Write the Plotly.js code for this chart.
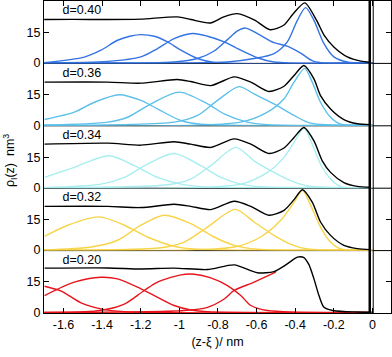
<!DOCTYPE html>
<html>
<head>
<meta charset="utf-8">
<script src="https://cdn.plot.ly/plotly-3.0.1.min.js"></script>
<style>
  body { margin: 0; background: white; }
  #chart { width: 392px; height: 357px; }
</style>
</head>
<body>
<div id="chart"></div>
<script>
// panel labels, top to bottom
const panelLabels = ['d=0.40', 'd=0.36', 'd=0.34', 'd=0.32', 'd=0.20'];
const panelColors = ['#3473e3', '#5cc0ea', '#a8eef0', '#f7d448', '#e8141c'];

const xTickVals = [-1.6, -1.4, -1.2, -1.0, -0.8, -0.6, -0.4, -0.2, 0];
const xTickText = ['-1.6', '-1.4', '-1.2', '-1', '-0.8', '-0.6', '-0.4', '-0.2', '0'];
const yTickVals = [0, 15];
const yTickText = ['0', '15'];

// d=0.40
const black1X = [-1.70, -1.55, -1.37, -1.20, -1.01, -0.94, -0.84, -0.77, -0.70, -0.61, -0.53, -0.46, -0.41, -0.35, -0.29, -0.25, -0.20, -0.13, -0.06, -0.01];
const black1Y = [21.3, 21.4, 21.3, 21.5, 22.6, 21.3, 19.6, 22.6, 24.2, 21.0, 16.3, 18.5, 24.2, 29.5, 21.0, 13.5, 7.8, 2.9, 0.8, 0.2];
const c1aX = [-1.492, -1.406, -1.320, -1.251, -1.199, -1.130, -1.061, -0.992, -0.906, -0.820];
const c1aY = [2.8, 6.2, 11.1, 13.2, 13.9, 13.1, 10.3, 6.2, 2.1, 0.2];
const c1bX = [-1.371, -1.199, -1.113, -1.027, -0.932, -0.854, -0.768, -0.682, -0.596, -0.510];
const c1bY = [0.7, 2.9, 7.0, 11.9, 14.4, 13.1, 10.3, 6.2, 2.5, 0.4];
const c1cX = [-1.027, -0.906, -0.820, -0.751, -0.699, -0.657, -0.596, -0.510, -0.441, -0.372, -0.303];
const c1cY = [0.4, 2.1, 5.8, 11.4, 15.7, 17.1, 14.4, 9.9, 8.2, 4.8, 0.7];
const c1dX = [-0.751, -0.613, -0.510, -0.441, -0.389, -0.346, -0.303, -0.251, -0.200, -0.131];
const c1dY = [0.4, 2.1, 4.5, 10.3, 20.9, 27.2, 20.9, 9.4, 2.9, 0.4];

// d=0.36
const black2X = [-1.698, -1.371, -1.199, -1.010, -0.941, -0.837, -0.716, -0.630, -0.536, -0.458, -0.406, -0.355, -0.303, -0.269, -0.217, -0.148, -0.079, -0.010];
const black2Y = [21.2, 21.2, 20.7, 22.5, 21.5, 19.5, 23.8, 21.2, 16.6, 19.2, 24.5, 29.4, 22.8, 14.6, 8.0, 2.8, 0.7, 0.2];
const c2aX = [-1.698, -1.544, -1.440, -1.311, -1.199, -1.113, -0.992, -0.889];
const c2aY = [2.8, 6.4, 11.3, 15.0, 12.2, 8.0, 2.3, 0.5];
const c2bX = [-1.371, -1.268, -1.147, -1.001, -0.854, -0.768, -0.648, -0.544];
const c2bY = [1.5, 3.9, 10.5, 16.3, 10.5, 5.6, 1.5, 0.3];
const c2cX = [-1.027, -0.906, -0.803, -0.691, -0.613, -0.510, -0.406, -0.320];
const c2cY = [1.5, 4.8, 12.2, 19.0, 15.4, 10.5, 4.8, 1.0];
const c2dX = [-0.682, -0.544, -0.458, -0.406, -0.351, -0.312, -0.269, -0.217, -0.165];
const c2dY = [1.5, 6.4, 13.0, 21.2, 28.0, 21.2, 11.3, 3.9, 0.5];

// d=0.34
const black3X = [-1.698, -1.371, -1.199, -1.027, -0.941, -0.837, -0.716, -0.630, -0.536, -0.458, -0.406, -0.355, -0.303, -0.260, -0.217, -0.148, -0.079, -0.010];
const black3Y = [21.4, 21.9, 20.9, 22.6, 21.4, 19.8, 24.0, 21.4, 16.8, 19.5, 24.7, 29.6, 23.0, 13.2, 7.5, 2.5, 0.6, 0.2];
const c3aX = [-1.698, -1.544, -1.363, -1.233, -1.113, -0.992, -0.889];
const c3aY = [5.0, 10.0, 15.7, 10.8, 5.0, 1.7, 0.5];
const c3bX = [-1.406, -1.285, -1.165, -1.027, -0.889, -0.785, -0.682, -0.579];
const c3bY = [1.7, 5.0, 11.6, 16.8, 10.8, 5.0, 1.7, 0.4];
const c3cX = [-1.061, -0.941, -0.837, -0.708, -0.613, -0.510, -0.423, -0.337];
const c3cY = [1.4, 4.2, 10.8, 19.8, 13.2, 7.5, 3.4, 0.8];
const c3dX = [-0.682, -0.544, -0.458, -0.406, -0.355, -0.312, -0.269, -0.217, -0.165];
const c3dY = [1.7, 7.5, 14.9, 22.3, 29.3, 21.4, 11.6, 4.2, 0.5];

// d=0.32
const black4X = [-1.698, -1.371, -1.199, -1.027, -0.941, -0.837, -0.716, -0.630, -0.536, -0.458, -0.406, -0.363, -0.312, -0.269, -0.217, -0.148, -0.079, -0.010];
const black4Y = [21.5, 21.5, 20.9, 22.5, 21.5, 19.9, 24.0, 21.5, 17.1, 19.5, 24.8, 29.7, 23.6, 13.8, 7.2, 2.3, 0.7, 0.2];
const c4aX = [-1.698, -1.578, -1.415, -1.285, -1.165, -1.027, -0.906];
const c4aY = [6.7, 12.2, 16.3, 12.2, 6.4, 1.8, 0.4];
const c4bX = [-1.457, -1.320, -1.199, -1.079, -0.941, -0.820, -0.716, -0.596];
const c4bY = [1.5, 4.8, 12.2, 17.1, 13.0, 6.4, 2.3, 0.4];
const c4cX = [-1.096, -0.975, -0.854, -0.711, -0.613, -0.510, -0.423, -0.337];
const c4cY = [1.1, 3.9, 11.3, 20.0, 13.8, 7.2, 2.8, 0.5];
const c4dX = [-0.716, -0.579, -0.475, -0.406, -0.363, -0.320, -0.269, -0.217, -0.165];
const c4dY = [1.5, 6.4, 14.6, 23.6, 29.4, 22.0, 11.3, 3.9, 0.5];

// d=0.20
const black5X = [-1.698, -1.371, -1.199, -1.027, -0.854, -0.716, -0.596, -0.510, -0.441, -0.389, -0.355, -0.329, -0.303, -0.277, -0.251, -0.200, -0.079, -0.010];
const black5Y = [21.8, 21.9, 21.4, 21.8, 21.1, 23.4, 19.5, 20.1, 23.9, 27.2, 27.0, 23.5, 16.5, 8.3, 2.5, 0.8, 0.2, 0.1];
const c5aX = [-1.698, -1.612, -1.509, -1.406, -1.285];
const c5aY = [12.9, 10.5, 4.7, 1.7, 0.3];
const c5bX = [-1.698, -1.544, -1.406, -1.320, -1.199, -1.130, -1.027, -0.941, -0.854];
const c5bY = [8.3, 14.9, 17.3, 16.5, 11.6, 8.3, 3.4, 1.2, 0.3];
const c5cX = [-1.423, -1.285, -1.182, -1.113, -0.992, -0.923, -0.837, -0.751, -0.682, -0.630, -0.544];
const c5cY = [0.8, 4.1, 10.8, 14.9, 18.5, 18.8, 17.0, 13.2, 8.3, 3.4, 0.9];
const c5dX = [-0.975, -0.854, -0.768, -0.716, -0.613, -0.501];
const c5dY = [0.9, 2.5, 6.6, 10.8, 14.9, 19.8];

const panels = [
  { black: [black1X, black1Y], comps: [[c1aX, c1aY], [c1bX, c1bY], [c1cX, c1cY], [c1dX, c1dY]] },
  { black: [black2X, black2Y], comps: [[c2aX, c2aY], [c2bX, c2bY], [c2cX, c2cY], [c2dX, c2dY]] },
  { black: [black3X, black3Y], comps: [[c3aX, c3aY], [c3bX, c3bY], [c3cX, c3cY], [c3dX, c3dY]] },
  { black: [black4X, black4Y], comps: [[c4aX, c4aY], [c4bX, c4bY], [c4cX, c4cY], [c4dX, c4dY]] },
  { black: [black5X, black5Y], comps: [[c5aX, c5aY], [c5bX, c5bY], [c5cX, c5cY], [c5dX, c5dY]] }
];

const xMin = -1.701, xMax = 0.096;
const font = { family: 'Liberation Sans, Arial, sans-serif', size: 12.5, color: 'black' };

// pads a component with zeros out to the edges, so the baseline is drawn too
function pad(xs, ys, last) {
  var px = xs.slice(), py = ys.slice();
  if (px[0] > -1.69) { px.unshift(-1.70); py.unshift(0); }
  if (!last) { px.push(0); py.push(0); }
  return [px, py];
}

var data = [];
var layout = {
  width: 392,
  height: 357,
  margin: { l: 44, r: 1, t: 1, b: 44 },
  paper_bgcolor: 'white',
  plot_bgcolor: 'rgba(0,0,0,0)',
  showlegend: false,
  font: font,
  shapes: [],
  annotations: []
};

for (var k = 0; k < 5; k++) {
  const n = k + 1;
  const xa = n === 1 ? 'x' : 'x' + n;
  const ya = n === 1 ? 'y' : 'y' + n;
  const p = panels[k];

  p.comps.forEach(function(c, j) {
    // the red rising curve in the bottom panel stops where it meets the total
    const cut = (k === 4 && j === 3);
    const pc = pad(c[0], c[1], cut);
    data.push({
      x: pc[0], y: pc[1], xaxis: xa, yaxis: ya,
      mode: 'lines', line: { color: panelColors[k], width: 1.4, shape: 'spline', smoothing: 0.8 },
      hoverinfo: 'skip'
    });
  });
  data.push({
    x: p.black[0], y: p.black[1], xaxis: xa, yaxis: ya,
    mode: 'lines', line: { color: 'black', width: 1.4, shape: 'spline', smoothing: 0.7 },
    hoverinfo: 'skip'
  });
  // panel label as a text mark starting above the -1.6 tick
  data.push({
    x: [-1.605], y: [25.5], xaxis: xa, yaxis: ya,
    mode: 'text', text: [panelLabels[k]], textposition: 'middle right',
    textfont: font, hoverinfo: 'skip', cliponaxis: false
  });

  const lo = 1 - (k + 1) / 5, hi = 1 - k / 5;
  layout['yaxis' + (n === 1 ? '' : n)] = {
    domain: [lo, hi], range: [-0.3, 30.44], anchor: xa,
    tickvals: yTickVals, ticktext: yTickText,
    ticks: 'inside', ticklen: 5, tickcolor: 'black',
    showline: true, linecolor: 'black', linewidth: 1, mirror: 'ticks',
    showgrid: false, zeroline: false, fixedrange: true
  };
  var xcfg = {
    domain: [0, 1], range: [xMin, xMax], anchor: ya,
    tickvals: xTickVals, ticktext: xTickText,
    showgrid: false, zeroline: false, fixedrange: true,
    showline: false, ticks: '', showticklabels: false
  };
  if (k === 0) {
    xcfg.side = 'top';
    xcfg.showline = true; xcfg.linecolor = 'black';
    xcfg.ticks = 'inside'; xcfg.ticklen = 5; xcfg.tickcolor = 'black';
  }
  if (k === 4) {
    xcfg.showline = true; xcfg.linecolor = 'black';
    xcfg.ticks = 'inside'; xcfg.ticklen = 5; xcfg.tickcolor = 'black';
    xcfg.showticklabels = true;
    xcfg.title = { text: '(z-\u03be )/ nm', font: font, standoff: 6 };
  }
  layout['xaxis' + (n === 1 ? '' : n)] = xcfg;

  // black divider between panels, under the traces
  if (k > 0) {
    layout.shapes.push({
      type: 'line', xref: 'paper', yref: 'paper', x0: 0, x1: 1, y0: hi, y1: hi,
      line: { color: 'black', width: 1 }, layer: 'below'
    });
  }
}

// double vertical line at the interface
layout.shapes.push({
  type: 'line', xref: 'x5', yref: 'paper', x0: -0.014, x1: -0.014, y0: 0, y1: 1,
  line: { color: 'black', width: 2.5 }
});
layout.shapes.push({
  type: 'line', xref: 'x5', yref: 'paper', x0: 0.004, x1: 0.004, y0: 0, y1: 1,
  line: { color: 'black', width: 1 }
});

layout.annotations.push({
  xref: 'paper', yref: 'paper', x: -0.098, y: 0.49, xanchor: 'center', yanchor: 'middle',
  text: '\u03c1<sub>I</sub>(z)  nm<sup>3</sup>', textangle: -90, showarrow: false, font: font
});

Plotly.newPlot('chart', data, layout, { displayModeBar: false, staticPlot: true });
</script>
</body>
</html>
